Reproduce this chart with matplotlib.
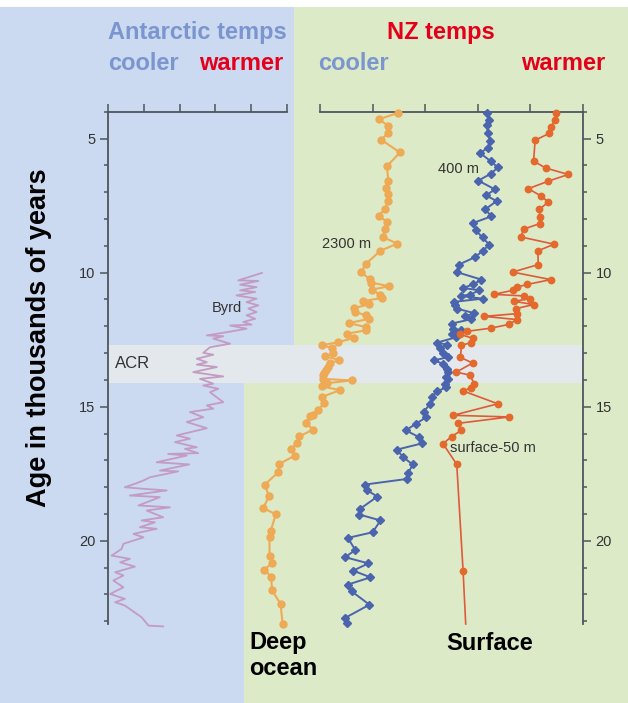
import matplotlib
matplotlib.use("Agg")
import matplotlib.pyplot as plt
from matplotlib.patches import Rectangle
from matplotlib.ticker import MultipleLocator
from matplotlib.transforms import blended_transform_factory

plt.rcParams['font.family'] = ['Liberation Sans', 'DejaVu Sans']

# ================================================
# Data (age in thousands of years, temps in relative units)
# ================================================
byrd_age = [10.01, 10.29, 10.31, 10.45, 10.54, 10.66, 10.72, 10.85, 10.97, 11.10,
            11.22, 11.34, 11.47, 11.59, 11.72, 11.84, 11.94, 11.97, 12.09, 12.22,
            12.34, 12.37, 12.46, 12.65, 12.78, 12.99, 13.06, 13.21, 13.34, 13.43,
            13.52, 13.71, 13.87, 13.96, 14.14, 14.21, 14.33, 14.46, 14.83, 14.95,
            15.07, 15.20, 15.39, 15.57, 15.80, 16.07, 16.19, 16.32, 16.51, 16.57,
            16.73, 16.76, 16.82, 17.07, 17.15, 17.38, 17.41, 17.63, 17.75, 17.85,
            18.00, 18.06, 18.12, 18.31, 18.37, 18.68, 18.75, 18.87, 19.12, 19.24,
            19.31, 19.49, 19.55, 19.74, 19.87, 20.11, 20.30, 20.55, 20.67, 20.80,
            20.96, 21.17, 21.29, 21.48, 21.73, 21.98, 22.16, 22.29, 22.41, 22.72,
            22.85, 23.16, 23.19]
byrd_temp = [4.30, 3.64, 4.20, 3.69, 4.15, 3.69, 4.11, 3.59, 4.15, 3.87,
             4.20, 3.92, 4.15, 3.87, 4.11, 3.78, 4.01, 3.41, 3.87, 3.32,
             2.76, 3.22, 2.94, 3.41, 2.85, 2.66, 2.94, 2.48, 2.76, 2.48,
             3.04, 2.38, 3.22, 2.57, 2.94, 2.66, 3.08, 2.85, 3.22, 2.76,
             2.94, 2.29, 2.66, 2.20, 2.76, 1.92, 2.29, 1.87, 2.48, 2.15,
             2.52, 1.68, 2.20, 1.36, 2.27, 1.45, 1.96, 1.17, 0.99, 0.80,
             0.47, 0.99, 1.64, 0.61, 1.45, 0.85, 1.73, 1.08, 1.54, 0.94,
             1.31, 0.89, 1.36, 0.71, 0.99, 0.43, 0.38, 0.10, 0.61, 0.34,
             0.75, 0.20, 0.43, 0.15, 0.43, 0.06, 0.47, 0.20, 0.47, 0.80,
             0.94, 1.13, 1.54]

deep_age = [4.05, 4.28, 4.53, 4.79, 5.04, 5.52, 6.04, 6.57, 6.83, 7.08,
            7.34, 7.61, 7.87, 8.11, 8.38, 8.67, 8.92, 9.18, 9.66, 9.98,
            10.25, 10.37, 10.51, 10.63, 10.82, 10.95, 11.06, 11.18, 11.32, 11.47,
            11.59, 11.72, 11.88, 12.03, 12.15, 12.28, 12.43, 12.59, 12.71, 12.80,
            12.99, 13.12, 13.26, 13.37, 13.50, 13.62, 13.75, 13.83, 13.96, 14.02,
            14.12, 14.24, 14.38, 14.64, 14.85, 15.11, 15.29, 15.36, 15.60, 15.85,
            16.10, 16.34, 16.59, 16.82, 17.13, 17.44, 17.90, 18.34, 18.78, 19.01,
            19.65, 19.87, 20.57, 20.84, 21.08, 21.33, 21.85, 22.35, 23.10]
deep_temp = [1.48, 1.12, 1.30, 1.30, 1.16, 1.52, 1.27, 1.30, 1.25, 1.29,
             1.29, 1.24, 1.12, 1.27, 1.24, 1.19, 1.47, 1.15, 0.88, 0.78,
             0.95, 0.97, 1.32, 0.98, 1.14, 1.18, 0.81, 0.94, 0.65, 0.67,
             0.87, 0.94, 0.55, 0.87, 0.87, 0.51, 0.65, 0.35, 0.03, 0.22,
             0.25, 0.10, 0.37, 0.19, 0.16, 0.11, 0.08, 0.06, 0.05, 0.61,
             0.14, 0.03, 0.38, 0.03, 0.08, -0.03, -0.13, -0.19, -0.27, -0.13,
             -0.39, -0.44, -0.55, -0.48, -0.77, -0.79, -1.05, -0.97, -1.08, -0.84,
             -0.94, -0.96, -0.96, -0.92, -1.06, -0.93, -0.91, -0.75, -0.71]

mid_age = [4.05, 4.32, 4.51, 4.79, 5.09, 5.34, 5.54, 5.85, 6.08, 6.31,
           6.57, 6.90, 7.12, 7.33, 7.64, 7.90, 8.15, 8.42, 8.69, 8.96,
           9.19, 9.42, 9.70, 9.98, 10.26, 10.44, 10.57, 10.66, 10.82, 10.87,
           10.97, 11.09, 11.22, 11.34, 11.51, 11.63, 11.74, 11.90, 12.09, 12.15,
           12.28, 12.41, 12.61, 12.68, 12.82, 12.99, 13.15, 13.27, 13.40, 13.58,
           13.71, 13.90, 13.96, 14.14, 14.27, 14.43, 14.64, 14.89, 15.18, 15.39,
           15.63, 15.88, 16.13, 16.37, 16.60, 16.88, 17.15, 17.48, 17.69, 17.90,
           18.12, 18.35, 18.81, 19.02, 19.24, 19.68, 19.89, 20.34, 20.61, 20.84,
           21.11, 21.36, 21.63, 21.88, 22.38, 22.87, 23.07]
mid_temp = [3.18, 3.21, 3.17, 3.19, 3.23, 3.20, 3.04, 3.25, 3.38, 3.25,
            3.01, 3.33, 3.15, 3.36, 3.14, 3.26, 2.91, 2.96, 3.09, 3.22,
            3.09, 2.95, 2.64, 2.60, 3.07, 2.91, 2.72, 3.03, 2.85, 2.68,
            3.09, 2.55, 2.57, 2.60, 2.93, 2.76, 2.87, 2.50, 2.52, 2.69,
            2.50, 2.59, 2.22, 2.41, 2.28, 2.33, 2.44, 2.17, 2.34, 2.41,
            2.44, 2.40, 2.44, 2.38, 2.40, 2.23, 2.12, 2.09, 1.98, 2.02,
            1.83, 1.63, 1.88, 1.93, 1.46, 1.58, 1.76, 1.68, 1.66, 0.86,
            0.90, 1.09, 0.76, 0.75, 1.15, 1.00, 0.53, 0.67, 0.48, 0.92,
            0.63, 0.96, 0.53, 0.60, 0.94, 0.48, 0.51]

surf_age = [4.05, 4.32, 4.57, 4.81, 5.06, 5.84, 6.10, 6.34, 6.59, 6.87,
            7.14, 7.37, 7.64, 7.93, 8.17, 8.38, 8.67, 8.94, 9.19, 9.70,
            9.98, 10.26, 10.44, 10.54, 10.66, 10.81, 10.87, 10.97, 11.07, 11.19,
            11.34, 11.53, 11.63, 11.75, 11.93, 12.07, 12.19, 12.30, 12.45, 12.61,
            12.71, 13.16, 13.37, 13.71, 13.82, 14.14, 14.29, 14.41, 14.89, 15.32,
            15.38, 15.62, 15.88, 16.11, 16.38, 17.15, 21.11]
surf_temp = [4.49, 4.47, 4.39, 4.36, 4.09, 4.06, 4.29, 4.72, 4.34, 3.96,
             4.20, 4.34, 4.17, 4.18, 4.18, 3.87, 3.82, 4.45, 4.14, 4.15,
             3.66, 4.39, 3.94, 3.74, 3.66, 3.31, 3.88, 3.99, 3.69, 4.06,
             3.73, 3.74, 3.12, 3.74, 3.59, 3.25, 2.79, 2.66, 2.91, 2.87,
             2.69, 2.67, 2.90, 2.59, 2.85, 2.93, 2.88, 2.72, 3.38, 2.53,
             3.60, 2.62, 2.69, 2.50, 2.34, 2.60, 2.72]
# line carries on past the last sample to the bottom of the axis
surf_tail_age = 23.1
surf_tail_temp = 2.77

acr = (12.7, 14.1)
age_ticks = [5, 10, 15, 20]
age_lim = (23.1, 4.0)

# ================================================
# Colours
# ================================================
blue_bg = '#cbdaf0'
green_bg = '#ddeac7'
band_col = '#e2e8ec'
axis_col = '#4d565c'
text_col = '#333333'
cool_col = '#7b96cf'
warm_col = '#e2001a'
byrd_col = '#c39bc3'
deep_col = '#eeaa55'
mid_col = '#4a64ad'
surf_line = '#dd5a3a'
surf_mark = '#e36a2c'

W, H = 628, 703


def fx(px):
    return px / W


def fy(py):
    return 1 - py / H


fig = plt.figure(figsize=(W / 100, H / 100), dpi=100)
fig.patch.set_facecolor('white')

axL = fig.add_axes([fx(108), fy(624), fx(287) - fx(108), fy(111.7) - fy(624)])
axR = fig.add_axes([fx(320), fy(624), fx(583) - fx(320), fy(111.7) - fy(624)])
bg = fig.add_axes([0, 0, 1, 1], zorder=-1)
bg.set_axis_off()
bg.set_xlim(0, 1)
bg.set_ylim(0, 1)

for ax in (axL, axR):
    ax.set_facecolor('none')
    ax.set_xlim(0, 5)
    ax.set_ylim(*age_lim)

# ================================================
# Background panels and ACR band
# ================================================
mix = blended_transform_factory(bg.transAxes, axL.transData)
bg.add_patch(Rectangle((fx(244), 0), 1 - fx(244), 1, color=green_bg, lw=0, zorder=1))
bg.add_patch(Rectangle((0, 0), fx(244), 1, color=blue_bg, lw=0, zorder=1))
bg.add_patch(Rectangle((fx(244), acr[0]), fx(294) - fx(244), -30, transform=mix,
                       color=blue_bg, lw=0, zorder=1))
bg.add_patch(Rectangle((fx(108), acr[0]), fx(583) - fx(108), acr[1] - acr[0],
                       transform=mix, color=band_col, lw=0, zorder=2))
bg.add_patch(Rectangle((0, fy(7)), 1, 1, color='white', lw=0, zorder=3))

# ================================================
# Series
# ================================================
axL.plot(byrd_temp, byrd_age, color=byrd_col, lw=1.3, clip_on=False, zorder=3)

axR.plot(deep_temp, deep_age, color=deep_col, lw=1.5, marker='o', ms=5,
         mec=deep_col, clip_on=False, zorder=3)
axR.plot(mid_temp, mid_age, color=mid_col, lw=1.4, marker='D', ms=4.2,
         mec=mid_col, clip_on=False, zorder=3)
axR.plot(surf_temp + [surf_tail_temp], surf_age + [surf_tail_age],
         color=surf_line, lw=1.2, clip_on=False, zorder=3)
axR.plot(surf_temp, surf_age, ls='none', marker='o', ms=4.6, color=surf_mark,
         mec=surf_mark, clip_on=False, zorder=4)

# ================================================
# Axes styling
# ================================================
for ax, side in ((axL, 'left'), (axR, 'right')):
    for name, sp in ax.spines.items():
        sp.set_visible(name in ('top', side))
        sp.set_color(axis_col)
        sp.set_linewidth(1.3)
    ax.xaxis.tick_top()
    ax.set_xticks(range(6))
    ax.tick_params(axis='x', which='major', direction='out', length=6,
                   width=1.1, color=axis_col, labeltop=False, labelbottom=False)
    ax.set_yticks(age_ticks)
    ax.yaxis.set_minor_locator(MultipleLocator(1))
    if side == 'left':
        ax.yaxis.tick_left()
    else:
        ax.yaxis.tick_right()
    ax.tick_params(axis='y', which='major', direction='out', length=6, width=1.1,
                   color=axis_col, labelcolor=text_col, labelsize=10.5, pad=3)
    ax.tick_params(axis='y', which='minor', direction='out', length=3, width=1.1,
                   color=axis_col)

# ================================================
# Labels
# ================================================
axL.text(3.32, 11.33, 'Byrd', fontsize=10.5, color=text_col, ha='center', va='center')
axL.text(0.2, sum(acr) / 2, 'ACR', fontsize=12, color=text_col, ha='left', va='center')
axR.text(0.03, 8.92, '2300 m', fontsize=10.5, color=text_col, ha='left', va='center')
axR.text(2.25, 6.15, '400 m', fontsize=10.5, color=text_col, ha='left', va='center')
axR.text(2.47, 16.55, 'surface-50 m', fontsize=10.5, color=text_col, ha='left', va='center')

bold = dict(fontsize=17, fontweight='bold', va='baseline')
fig.text(fx(197), fy(39), 'Antarctic temps', color=cool_col, ha='center', **bold)
fig.text(fx(440.5), fy(39), 'NZ temps', color=warm_col, ha='center', **bold)
fig.text(fx(108), fy(70.5), 'cooler', color=cool_col, ha='left', **bold)
fig.text(fx(283), fy(70.5), 'warmer', color=warm_col, ha='right', **bold)
fig.text(fx(318), fy(70.5), 'cooler', color=cool_col, ha='left', **bold)
fig.text(fx(605), fy(70.5), 'warmer', color=warm_col, ha='right', **bold)
fig.text(fx(249), fy(649), 'Deep', color='black', ha='left', **bold)
fig.text(fx(249), fy(675), 'ocean', color='black', ha='left', **bold)
fig.text(fx(446), fy(650), 'Surface', color='black', ha='left', **bold)
fig.text(fx(39), fy(338), 'Age in thousands of years', color='black', rotation=90,
         ha='center', va='center', fontsize=19.5, fontweight='bold')

fig.savefig('out.png', dpi=100)
